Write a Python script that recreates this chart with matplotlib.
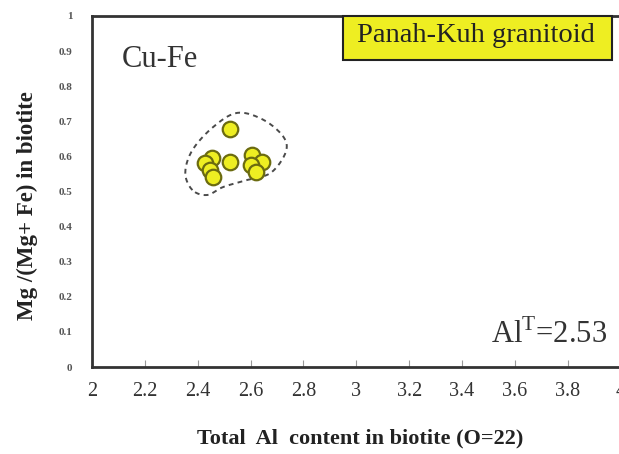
import numpy as np
import matplotlib.pyplot as plt
from matplotlib.patches import Rectangle

# data
al_total = [2.524, 2.455, 2.429, 2.448, 2.459, 2.524, 2.607, 2.645, 2.600, 2.619]
mg_ratio = [0.678, 0.595, 0.581, 0.561, 0.541, 0.584, 0.604, 0.584, 0.575, 0.556]

# dashed envelope around the cluster
env_x = [2.380, 2.353, 2.380, 2.459, 2.550, 2.649, 2.725, 2.732, 2.676, 2.588, 2.497, 2.436]
env_y = [0.504, 0.553, 0.618, 0.684, 0.724, 0.704, 0.655, 0.610, 0.553, 0.533, 0.513, 0.490]

x_ticks = [2, 2.2, 2.4, 2.6, 2.8, 3, 3.2, 3.4, 3.6, 3.8, 4]
x_labels = ["2", "2.2", "2.4", "2.6", "2.8", "3", "3.2", "3.4", "3.6", "3.8", "4"]
y_ticks = [0, 0.1, 0.2, 0.3, 0.4, 0.5, 0.6, 0.7, 0.8, 0.9, 1]
y_labels = ["0", "0.1", "0.2", "0.3", "0.4", "0.5", "0.6", "0.7", "0.8", "0.9", "1"]


def closed_spline(xs, ys, n=20):
    # Catmull-Rom through the envelope vertices, closed loop
    pts = np.column_stack([xs, ys])
    m = len(pts)
    out = []
    for i in range(m):
        p0, p1, p2, p3 = pts[i - 1], pts[i], pts[(i + 1) % m], pts[(i + 2) % m]
        for t in np.linspace(0, 1, n, endpoint=False):
            t2, t3 = t * t, t * t * t
            out.append(0.5 * (2 * p1 + (-p0 + p2) * t
                              + (2 * p0 - 5 * p1 + 4 * p2 - p3) * t2
                              + (-p0 + 3 * p1 - 3 * p2 + p3) * t3))
    out.append(out[0])
    out = np.array(out)
    return out[:, 0], out[:, 1]


plt.rcParams['font.family'] = ['Liberation Serif', 'DejaVu Serif']
plt.rcParams['mathtext.fontset'] = 'custom'
plt.rcParams['mathtext.rm'] = 'Liberation Serif'

fig = plt.figure(figsize=(6.19, 4.54), dpi=100)
ax = fig.add_axes([0.1486, 0.1916, 0.854, 0.7732])

sx, sy = closed_spline(env_x, env_y)
ax.plot(sx, sy, ls=(0, (2.5, 2.2)), color="#4a4a4a", lw=1.4)

ax.scatter(al_total, mg_ratio, s=125, color="#eeee22", edgecolor="#6b6b10",
           linewidth=1.6, zorder=3)

ax.set_xlim(2, 4)
ax.set_ylim(0, 1)
ax.set_xticks(x_ticks)
ax.set_xticklabels(x_labels, fontsize=14.5, color="#333333")
ax.set_yticks(y_ticks)
ax.set_yticklabels(y_labels, fontsize=8, color="#555555", fontweight="bold")
ax.tick_params(axis="x", direction="in", length=5, pad=11, color="#999999")
ax.tick_params(axis="y", direction="in", length=0, pad=14)

for sp in ax.spines.values():
    sp.set_linewidth(2)
    sp.set_color("#333333")

ax.set_xlabel("Total  Al  content in biotite (O=22)", fontsize=16,
              fontweight="bold", color="#222222")
ax.xaxis.set_label_coords(0.508, -0.205)
ax.xaxis.label.set_va("center")
ax.set_ylabel("Mg /(Mg+ Fe) in biotite", fontsize=16.5, fontweight="bold",
              color="#222222")
ax.yaxis.set_label_coords(-0.123, 0.46)
ax.yaxis.label.set_va("center")

ax.text(2.114, 0.875, "Cu-Fe", fontsize=22, color="#333333", va="center")
ax.text(3.95, 0.068, r"Al$^{\mathrm{T}}$=2.53", fontsize=22, color="#333333",
        ha="right", va="baseline")

# title box in the top right corner
fig.patches.append(Rectangle((343 / 619, 1 - 60 / 454), 269 / 619, 44 / 454,
                             transform=fig.transFigure, fc="#eeee22",
                             ec="#222222", lw=1.5, zorder=5))
fig.text(357 / 619, 1 - 36 / 454, "Panah-Kuh granitoid", fontsize=20.5,
         color="#222222", va="center", ha="left", zorder=6)

fig.savefig("out.png", dpi=100)
